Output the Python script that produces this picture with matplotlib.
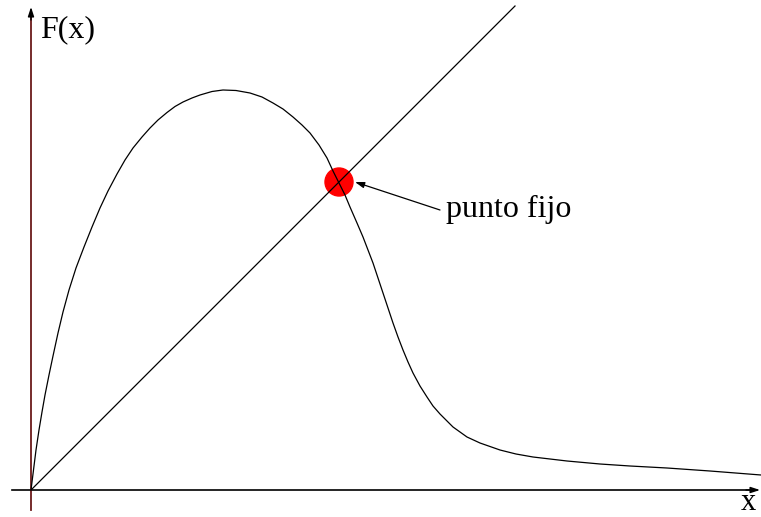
import numpy as np
import matplotlib.pyplot as plt
from matplotlib.patches import Circle

plt.rcParams['font.family'] = ['Liberation Serif', 'DejaVu Serif']

# F(x), sampled by hand along the curve
xs = [0.000, 0.025, 0.05, 0.08, 0.11, 0.14, 0.18, 0.22, 0.27, 0.32, 0.38,
      0.45, 0.53, 0.61, 0.69, 0.77, 0.86, 0.94, 1.02, 1.11, 1.19, 1.27,
      1.36, 1.44, 1.52, 1.61, 1.69, 1.81, 1.92, 2.05, 2.19, 2.31, 2.42,
      2.52, 2.62, 2.71, 2.79, 2.88, 2.96, 3.02, 3.08, 3.14, 3.19, 3.26,
      3.32, 3.37, 3.42, 3.47, 3.52, 3.57, 3.62, 3.67, 3.72, 3.77, 3.82,
      3.89, 3.96, 4.02, 4.09, 4.16, 4.22, 4.29, 4.36, 4.49, 4.69, 4.85,
      5.02, 5.19, 5.36, 5.69, 5.99, 6.36, 6.79, 7.30]
fx = [0.00, 0.20, 0.40, 0.60, 0.78, 0.95, 1.15, 1.34, 1.57, 1.78, 2.00,
      2.22, 2.43, 2.63, 2.82, 2.99, 3.16, 3.30, 3.42, 3.53, 3.62, 3.70,
      3.775, 3.835, 3.88, 3.92, 3.95, 3.985, 4.00, 3.995, 3.97, 3.93, 3.87,
      3.81, 3.73, 3.65, 3.57, 3.45, 3.32, 3.19, 3.07, 2.95, 2.83, 2.67,
      2.53, 2.40, 2.27, 2.12, 1.97, 1.82, 1.67, 1.53, 1.40, 1.28, 1.17,
      1.04, 0.93, 0.84, 0.76, 0.69, 0.63, 0.58, 0.53, 0.47, 0.40, 0.36,
      0.33, 0.31, 0.29, 0.26, 0.24, 0.22, 0.19, 0.15]

# identity line and its crossing with F
diag = [0.0, 4.84]
fixed = 3.08

fig = plt.figure(figsize=(7.61, 5.17), dpi=100)
ax = fig.add_axes([0, 0, 1, 1])
ax.set_xlim(-0.31, 7.30)
ax.set_ylim(-0.27, 4.90)
ax.axis('off')

# axes with arrow heads
ax.plot([-0.19, 7.22], [0, 0], color='k', lw=1.2)
ax.plot([0, 0], [-0.20, 4.76], color='#6b1a1a', lw=1.3)
head = dict(arrowstyle='-|>,head_length=0.55,head_width=0.18', color='k', lw=1,
            shrinkA=0, shrinkB=0)
ax.annotate('', xy=(7.29, 0), xytext=(7.15, 0), arrowprops=head)
ax.annotate('', xy=(0, 4.83), xytext=(0, 4.70), arrowprops=head)

ax.add_patch(Circle((fixed, fixed), 0.14, color='red', zorder=2))
ax.plot(diag, diag, color='k', lw=0.9, zorder=3)
ax.plot(xs, fx, color='k', lw=0.9, zorder=3, solid_joinstyle='round')

ax.annotate('', xy=(3.24, 3.08), xytext=(4.09, 2.80),
            arrowprops=dict(arrowstyle='-|>,head_length=0.55,head_width=0.18',
                            color='k', lw=0.9, shrinkA=0, shrinkB=0))

ax.text(4.15, 2.73, 'punto fijo', fontsize=23, ha='left', va='baseline')
ax.text(0.09, 4.53, 'F(x)', fontsize=23, ha='left', va='baseline')
ax.text(7.10, -0.20, 'x', fontsize=22, ha='left', va='baseline')

fig.savefig('out.png', dpi=100)
